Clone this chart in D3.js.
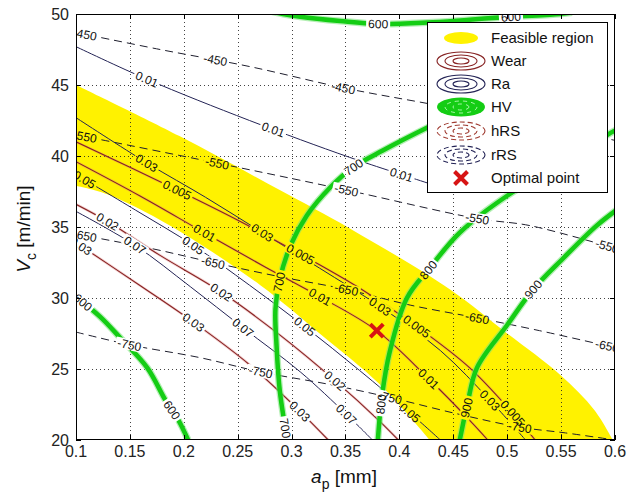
<!DOCTYPE html>
<html>
<head>
<meta charset="utf-8">
<script src="https://cdnjs.cloudflare.com/ajax/libs/d3/7.8.5/d3.min.js"></script>
<style>
  body { margin: 0; background: #fff; }
  svg { display: block; }
  text { font-family: "Liberation Sans", Arial, Helvetica, sans-serif; }
</style>
</head>
<body>
<svg id="chart" width="634" height="497"></svg>
<script>
// ---- axis ticks ----
const apTicks = [0.1, 0.15, 0.2, 0.25, 0.3, 0.35, 0.4, 0.45, 0.5, 0.55, 0.6];
const apTickLabels = ["0.1", "0.15", "0.2", "0.25", "0.3", "0.35", "0.4", "0.45", "0.5", "0.55", "0.6"];
const vcTicks = [20, 25, 30, 35, 40, 45, 50];
const vcTickLabels = ["20", "25", "30", "35", "40", "45", "50"];

// ---- feasible region boundary [ap, Vc] ----
const feasibleUpper = [[0.100,45.0],[0.196,41.4],[0.289,37.6],[0.354,34.9],[0.447,30.6],[0.500,27.5],[0.549,24.6],[0.581,22.1],[0.598,20.0]];
const feasibleLower = [[0.428,20.0],[0.382,23.9],[0.326,27.5],[0.271,30.9],[0.187,35.1],[0.129,37.3],[0.100,37.9]];

// ---- tool wear contours ----
const wear0005 = [[0.100,41.0],[0.194,37.6],[0.252,35.4],[0.308,33.1],[0.363,30.7],[0.416,28.0],[0.465,25.1],[0.505,21.9],[0.526,20.0]];
const wear001  = [[0.100,39.6],[0.159,37.2],[0.219,34.6],[0.275,32.2],[0.326,30.1],[0.379,27.7],[0.426,24.4],[0.465,21.4],[0.482,20.0]];
const wear002  = [[0.100,36.6],[0.129,35.4],[0.178,33.0],[0.235,30.4],[0.289,27.4],[0.340,24.2],[0.382,21.3],[0.399,20.0]];
const wear003  = [[0.100,33.9],[0.159,30.9],[0.209,28.3],[0.261,25.3],[0.308,22.0],[0.334,20.0]];

// ---- surface roughness Ra contours ----
const ra001 = [[0.100,47.7],[0.166,45.4],[0.261,42.5],[0.354,39.9],[0.426,38.1],[0.442,37.7]];
const ra003 = [[0.100,42.7],[0.166,39.5],[0.220,37.1],[0.273,34.6],[0.326,32.1],[0.382,29.4],[0.438,26.3],[0.484,22.8],[0.517,20.0]];
const ra005 = [[0.100,38.7],[0.155,36.2],[0.209,33.7],[0.261,30.9],[0.312,28.0],[0.363,24.9],[0.410,21.9],[0.438,20.0]];
const ra007 = [[0.100,36.1],[0.155,33.7],[0.206,30.8],[0.255,27.9],[0.308,24.8],[0.351,21.8],[0.375,20.0]];

// ---- microhardness HV contours ----
const hv600Low = [[0.100,30.1],[0.122,28.7],[0.141,27.2],[0.166,25.1],[0.183,22.8],[0.195,21.4],[0.204,20.0]];
const hv600Top = [[0.280,50.2],[0.292,50.0],[0.308,49.8],[0.345,49.5],[0.380,49.3],[0.426,49.4],[0.465,49.6],[0.503,49.8],[0.549,50.0],[0.560,50.1]];
const hv700 = [[0.296,20.0],[0.289,23.5],[0.286,26.7],[0.285,29.2],[0.289,31.3],[0.299,33.7],[0.314,35.8],[0.336,37.8],[0.357,39.2],[0.385,40.4],[0.426,42.0],[0.465,43.4]];
const hv800 = [[0.380,20.0],[0.384,23.2],[0.391,26.2],[0.407,30.0],[0.428,32.1],[0.456,34.6],[0.500,37.2],[0.549,39.4],[0.593,41.5],[0.605,42.0]];
const hv900 = [[0.456,20.0],[0.463,22.5],[0.472,25.1],[0.500,28.1],[0.524,30.6],[0.552,32.8],[0.583,35.1],[0.605,36.4]];

// ---- residual stress contours ----
const rs450 = [[0.100,48.7],[0.178,47.5],[0.261,46.3],[0.348,44.8],[0.426,43.7],[0.512,42.5],[0.600,41.1]];
const rs550 = [[0.100,41.5],[0.231,39.5],[0.351,37.6],[0.472,35.6],[0.521,35.1],[0.600,33.5]];
const rs650 = [[0.100,34.5],[0.169,33.5],[0.227,32.5],[0.289,31.5],[0.351,30.6],[0.410,29.5],[0.472,28.6],[0.530,27.7],[0.600,26.5]];
const rs750 = [[0.100,27.6],[0.150,26.7],[0.215,25.8],[0.271,24.8],[0.336,23.9],[0.391,23.0],[0.456,21.8],[0.512,20.9],[0.554,20.5],[0.600,20.0]];

// ---- optimum ----
const optimalPoint = [0.379, 27.7];

// ---- inline label anchors [ap, Vc] ----
const wear0005Labels = [[0.194,37.6],[0.308,33.1],[0.416,28.0],[0.505,21.9]];
const wear001Labels  = [[0.219,34.6],[0.326,30.1],[0.426,24.2]];
const wear002Labels  = [[0.129,35.4],[0.235,30.4],[0.340,24.2]];
const wear003Labels  = [[0.105,33.7],[0.209,28.3],[0.308,22.0]];
const ra001Labels = [[0.166,45.4],[0.283,41.8],[0.401,38.5]];
const ra003Labels = [[0.166,39.5],[0.273,34.6],[0.382,29.4],[0.484,22.8]];
const ra005Labels = [[0.108,38.3],[0.209,33.7],[0.312,28.0],[0.410,21.9]];
const ra007Labels = [[0.155,33.7],[0.255,27.9],[0.351,21.8]];
const hv600LowLabels = [[0.106,29.7],[0.190,22.2]];
const hv600TopLabels = [[0.380,49.3],[0.503,49.8]];
const hv700Labels = [[0.289,31.1],[0.294,20.8],[0.357,39.2]];
const hv800Labels = [[0.428,31.9],[0.385,22.5]];
const hv900Labels = [[0.524,30.6],[0.461,22.3]];
const rs450Labels = [[0.108,48.6],[0.229,46.6],[0.348,44.8]];
const rs550Labels = [[0.108,41.4],[0.231,39.5],[0.351,37.6],[0.472,35.6],[0.593,33.7]];
const rs650Labels = [[0.108,34.4],[0.227,32.5],[0.351,30.6],[0.472,28.6],[0.593,26.6]];
const rs750Labels = [[0.150,26.7],[0.271,24.8],[0.391,23.0],[0.512,20.9]];

const legendNames = ["Feasible region", "Wear", "Ra", "HV", "hRS", "rRS", "Optimal point"];

// ---------------------------------------------------------------
const svg = d3.select("#chart");
const plot = { left: 76, right: 615, top: 14, bottom: 440 };
const x = d3.scaleLinear().domain([0.1, 0.6]).range([plot.left, plot.right]);
const y = d3.scaleLinear().domain([20, 50]).range([plot.bottom, plot.top]);

const COL = {
  yellow: "rgb(255,242,0)",
  wear: "rgb(135,35,35)",
  ra: "rgb(35,35,85)",
  rs: "rgb(30,30,45)",
  hv: "rgb(20,205,20)",
  red: "rgb(215,20,20)"
};

const defs = svg.append("defs");
defs.append("clipPath").attr("id", "plotClip")
  .append("rect").attr("x", plot.left).attr("y", plot.top)
  .attr("width", plot.right - plot.left).attr("height", plot.bottom - plot.top);
const mask = defs.append("mask").attr("id", "labelGaps")
  .attr("maskUnits", "userSpaceOnUse").attr("x", 0).attr("y", 0).attr("width", 634).attr("height", 497);
mask.append("rect").attr("width", 634).attr("height", 497).attr("fill", "white");

const line = d3.line().x(d => x(d[0])).y(d => y(d[1])).curve(d3.curveCatmullRom.alpha(0.5));

// feasible region
const upperPath = line(feasibleUpper);
const lowerPath = line(feasibleLower).replace(/^M/, "L");
svg.append("path").attr("clip-path", "url(#plotClip)")
  .attr("d", upperPath + lowerPath + "Z").attr("fill", COL.yellow);

// grid
const grid = svg.append("g").attr("stroke", "#222").attr("stroke-width", 1)
  .attr("stroke-dasharray", "1,3").attr("opacity", 0.85);
apTicks.slice(1, -1).forEach(v => grid.append("line")
  .attr("x1", Math.round(x(v)) + 0.5).attr("x2", Math.round(x(v)) + 0.5)
  .attr("y1", plot.top).attr("y2", plot.bottom));
vcTicks.slice(1, -1).forEach(v => grid.append("line")
  .attr("y1", Math.round(y(v)) + 0.5).attr("y2", Math.round(y(v)) + 0.5)
  .attr("x1", plot.left).attr("x2", plot.right));

// contour lines
const linesG = svg.append("g").attr("clip-path", "url(#plotClip)")
  .append("g").attr("mask", "url(#labelGaps)");
const labelsG = svg.append("g").attr("clip-path", "url(#plotClip)")
  .style("font-size", "12px").attr("fill", "#111");

const contours = [
  { pts: rs450, lab: rs450Labels, text: "-450", kind: "rs" },
  { pts: rs550, lab: rs550Labels, text: "-550", kind: "rs" },
  { pts: rs650, lab: rs650Labels, text: "-650", kind: "rs" },
  { pts: rs750, lab: rs750Labels, text: "-750", kind: "rs" },
  { pts: ra001, lab: ra001Labels, text: "0.01", kind: "ra" },
  { pts: ra003, lab: ra003Labels, text: "0.03", kind: "ra" },
  { pts: ra005, lab: ra005Labels, text: "0.05", kind: "ra" },
  { pts: ra007, lab: ra007Labels, text: "0.07", kind: "ra" },
  { pts: wear0005, lab: wear0005Labels, text: "0.005", kind: "wear" },
  { pts: wear001, lab: wear001Labels, text: "0.01", kind: "wear" },
  { pts: wear002, lab: wear002Labels, text: "0.02", kind: "wear" },
  { pts: wear003, lab: wear003Labels, text: "0.03", kind: "wear" },
  { pts: hv600Low, lab: hv600LowLabels, text: "600", kind: "hv" },
  { pts: hv600Top, lab: hv600TopLabels, text: "600", kind: "hv" },
  { pts: hv700, lab: hv700Labels, text: "700", kind: "hv" },
  { pts: hv800, lab: hv800Labels, text: "800", kind: "hv" },
  { pts: hv900, lab: hv900Labels, text: "900", kind: "hv" }
];

function drawContour(c) {
  const d = line(c.pts);
  let p;
  if (c.kind === "hv") {
    linesG.append("path").attr("d", d).attr("fill", "none")
      .attr("stroke", "rgba(120,225,120,0.55)").attr("stroke-width", 7);
    p = linesG.append("path").attr("d", d).attr("fill", "none")
      .attr("stroke", COL.hv).attr("stroke-width", 4.5);
  } else if (c.kind === "rs") {
    p = linesG.append("path").attr("d", d).attr("fill", "none")
      .attr("stroke", COL.rs).attr("stroke-width", 1).attr("stroke-dasharray", "8,5");
  } else if (c.kind === "wear") {
    linesG.append("path").attr("d", d).attr("fill", "none")
      .attr("stroke", "rgba(220,120,120,0.35)").attr("stroke-width", 2.6);
    p = linesG.append("path").attr("d", d).attr("fill", "none")
      .attr("stroke", COL.wear).attr("stroke-width", 1.1);
  } else {
    p = linesG.append("path").attr("d", d).attr("fill", "none")
      .attr("stroke", COL.ra).attr("stroke-width", 1);
  }
  placeLabels(p.node(), c.lab, c.text);
}

function placeLabels(node, anchors, text) {
  const L = node.getTotalLength();
  const samples = [];
  for (let s = 0; s <= L; s += 1) {
    const q = node.getPointAtLength(s);
    samples.push({ s, x: q.x, y: q.y });
  }
  anchors.forEach(a => {
    const ax = x(a[0]), ay = y(a[1]);
    let best = samples[0], bd = Infinity;
    samples.forEach(q => {
      const dd = (q.x - ax) ** 2 + (q.y - ay) ** 2;
      if (dd < bd) { bd = dd; best = q; }
    });
    const p0 = node.getPointAtLength(Math.max(0, best.s - 6));
    const p1 = node.getPointAtLength(Math.min(L, best.s + 6));
    let ang = Math.atan2(p1.y - p0.y, p1.x - p0.x) * 180 / Math.PI;
    if (ang > 90) ang -= 180;
    if (ang <= -90) ang += 180;
    const tf = `translate(${best.x},${best.y}) rotate(${ang})`;
    const t = labelsG.append("text").attr("transform", tf)
      .attr("text-anchor", "middle").attr("dy", "0.36em").text(text);
    const w = t.node().getComputedTextLength() + 4;
    mask.append("rect").attr("transform", tf)
      .attr("x", -w / 2).attr("y", -5.5).attr("width", w).attr("height", 11).attr("fill", "black");
  });
}

contours.filter(c => c.kind !== "hv").forEach(drawContour);
contours.filter(c => c.kind === "hv").forEach(drawContour);

// optimal point marker
function cross(g, cx, cy, r, w) {
  g.append("path").attr("d", `M${cx - r},${cy - r}L${cx + r},${cy + r}M${cx - r},${cy + r}L${cx + r},${cy - r}`)
    .attr("stroke", COL.red).attr("stroke-width", w).attr("fill", "none");
}
cross(svg.append("g"), x(optimalPoint[0]), y(optimalPoint[1]), 6.5, 4);

// axes box and inward ticks
const axG = svg.append("g").attr("stroke", "#000").attr("stroke-width", 1);
axG.append("rect").attr("x", plot.left + 0.5).attr("y", plot.top + 0.5)
  .attr("width", plot.right - plot.left - 1).attr("height", plot.bottom - plot.top - 1).attr("fill", "none");
apTicks.forEach(v => {
  const px = Math.round(x(v)) + 0.5;
  axG.append("line").attr("x1", px).attr("x2", px).attr("y1", plot.bottom).attr("y2", plot.bottom - 5);
  axG.append("line").attr("x1", px).attr("x2", px).attr("y1", plot.top).attr("y2", plot.top + 5);
});
vcTicks.forEach(v => {
  const py = Math.round(y(v)) + 0.5;
  axG.append("line").attr("y1", py).attr("y2", py).attr("x1", plot.left).attr("x2", plot.left + 5);
  axG.append("line").attr("y1", py).attr("y2", py).attr("x1", plot.right).attr("x2", plot.right - 5);
});

const tickG = svg.append("g").style("font-size", "16px").attr("fill", "#222");
apTicks.forEach((v, i) => tickG.append("text").attr("x", x(v)).attr("y", 457)
  .attr("text-anchor", "middle").text(apTickLabels[i]));
vcTicks.forEach((v, i) => tickG.append("text").attr("x", 69).attr("y", y(v))
  .attr("dy", "0.36em").attr("text-anchor", "end").text(vcTickLabels[i]));

// axis titles
const xt = svg.append("text").attr("x", 344).attr("y", 483).attr("text-anchor", "middle")
  .style("font-size", "19px").attr("fill", "#111");
xt.append("tspan").attr("font-style", "italic").text("a");
xt.append("tspan").style("font-size", "14px").attr("dy", 6).text("p");
xt.append("tspan").attr("dy", -6).text(" [mm]");

const yt = svg.append("text").attr("transform", "translate(30,229) rotate(-90)")
  .attr("text-anchor", "middle").style("font-size", "19px").attr("fill", "#111");
yt.append("tspan").attr("font-style", "italic").text("V");
yt.append("tspan").style("font-size", "14px").attr("dy", 6).text("c");
yt.append("tspan").attr("dy", -6).text(" [m/min]");

// legend
const lg = svg.append("g");
lg.append("rect").attr("x", 427.5).attr("y", 22.5).attr("width", 180).attr("height", 170)
  .attr("fill", "#fff").attr("stroke", "#000").attr("stroke-width", 1);
const rowY = [38, 61, 84, 107, 131, 155, 178];
const icx = 461;
function rings(cy, color, dashed) {
  [[24, 9], [16, 6], [8, 3]].forEach(r => lg.append("ellipse")
    .attr("cx", icx).attr("cy", cy).attr("rx", r[0]).attr("ry", r[1])
    .attr("fill", "none").attr("stroke", color).attr("stroke-width", 1.1)
    .attr("stroke-dasharray", dashed ? "5,3" : null));
}
lg.append("ellipse").attr("cx", icx).attr("cy", rowY[0]).attr("rx", 17).attr("ry", 6).attr("fill", COL.yellow);
rings(rowY[1], COL.wear, false);
rings(rowY[2], COL.ra, false);
lg.append("ellipse").attr("cx", icx).attr("cy", rowY[3]).attr("rx", 24).attr("ry", 9.5).attr("fill", COL.hv);
[[16, 6], [8, 3]].forEach(r => lg.append("ellipse").attr("cx", icx).attr("cy", rowY[3])
  .attr("rx", r[0]).attr("ry", r[1]).attr("fill", "none")
  .attr("stroke", "rgba(200,255,200,0.8)").attr("stroke-dasharray", "4,4"));
rings(rowY[4], "rgb(160,60,50)", true);
rings(rowY[5], COL.ra, true);
cross(lg, icx, rowY[6], 6.5, 4);
legendNames.forEach((n, i) => lg.append("text").attr("x", 491).attr("y", rowY[i]).attr("dy", "0.36em")
  .style("font-size", "15px").attr("fill", "#111").text(n));
</script>
</body>
</html>
